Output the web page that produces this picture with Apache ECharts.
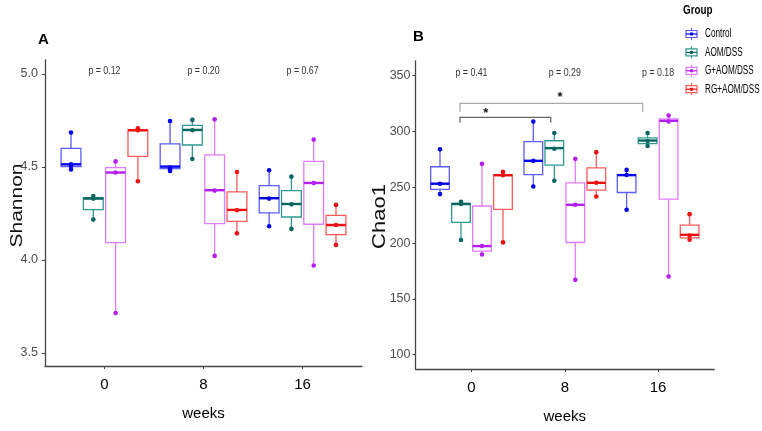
<!DOCTYPE html>
<html>
<head>
<meta charset="utf-8">
<script src="https://cdn.jsdelivr.net/npm/echarts@6/dist/echarts.min.js"></script>
<style>
  html, body { margin: 0; padding: 0; background: #fff; }
  #chart { width: 762px; height: 431px; }
</style>
</head>
<body>
<div id="chart"></div>
<script>
// groups and weeks
var groups = ['Control', 'AOM/DSS', 'G+AOM/DSS', 'RG+AOM/DSS'];
var weeks = ['0', '8', '16'];

// Shannon boxes, per week: [min, q1, median, q3, max]
var shannonCtrl = [[4.486, 4.502, 4.514, 4.600, 4.685], [4.478, 4.491, 4.502, 4.624, 4.747], [4.181, 4.253, 4.332, 4.400, 4.482]];
var shannonAom  = [[4.217, 4.271, 4.330, 4.335, 4.344], [4.543, 4.618, 4.699, 4.724, 4.753], [4.167, 4.231, 4.301, 4.373, 4.448]];
var shannonG    = [[3.715, 4.093, 4.470, 4.496, 4.530], [4.022, 4.195, 4.375, 4.565, 4.756], [3.970, 4.192, 4.414, 4.530, 4.647]];
var shannonRg   = [[4.423, 4.557, 4.697, 4.699, 4.708], [4.143, 4.208, 4.269, 4.366, 4.473], [4.081, 4.136, 4.188, 4.240, 4.296]];
// Shannon sample points
var shannonCtrlPts = [[4.685, 4.514, 4.505, 4.486], [4.747, 4.497, 4.488, 4.478], [4.482, 4.330, 4.181]];
var shannonAomPts  = [[4.344, 4.330, 4.217], [4.753, 4.697, 4.543], [4.448, 4.299, 4.167]];
var shannonGPts    = [[4.530, 4.470, 3.715], [4.756, 4.373, 4.022], [4.647, 4.414, 3.970]];
var shannonRgPts   = [[4.708, 4.697, 4.423], [4.473, 4.267, 4.143], [4.296, 4.188, 4.081]];

// Chao1 boxes, per week: [min, q1, median, q3, max]
var chaoCtrl = [[243.9, 248.1, 253.2, 268.4, 284.0], [250.7, 261.4, 273.7, 291.0, 309.0], [229.8, 245.3, 260.9, 261.4, 265.6]];
var chaoAom  = [[202.7, 218.6, 235.0, 235.6, 237.0], [255.8, 269.9, 285.1, 291.7, 298.6], [286.9, 289.2, 291.9, 294.3, 298.6]];
var chaoG    = [[189.8, 192.8, 197.3, 233.2, 271.0], [167.0, 200.5, 234.3, 254.0, 275.5], [170.0, 239.4, 309.6, 311.4, 314.3]];
var chaoRg   = [[200.6, 230.2, 260.8, 261.4, 263.8], [241.7, 247.4, 254.0, 267.4, 281.5], [202.9, 204.7, 207.4, 216.0, 225.9]];
// Chao1 sample points
var chaoCtrlPts = [[284.0, 253.2, 243.9], [309.0, 273.7, 250.7], [265.6, 261.0, 229.8]];
var chaoAomPts  = [[237.0, 235.0, 202.7], [298.6, 284.5, 255.8], [298.6, 291.5, 287.0]];
var chaoGPts    = [[271.0, 197.3, 189.8], [275.5, 234.3, 167.0], [314.3, 309.0, 170.0]];
var chaoRgPts   = [[263.8, 260.8, 200.6], [281.5, 254.0, 241.7], [225.9, 206.8, 203.0]];

// p values per week
var shannonP = ['p = 0.12', 'p = 0.20', 'p = 0.67'];
var chaoP = ['p = 0.41', 'p = 0.29', 'p = 0.18'];

// significance brackets on Chao1: [x from, x to, line value, end value]
var chaoBrackets = [[-0.123, 0.849, 312.7, 308.0], [-0.123, 1.834, 325.3, 317.7]];
var chaoStars = [[0.152, 318.6], [0.949, 333.3]];

var shannonTicks = [3.5, 4.0, 4.5, 5.0];
var chaoTicks = [100, 150, 200, 250, 300, 350];

var FONT = "'Liberation Sans', Arial, sans-serif";
var lightCol = ['#5c5cff', '#2f9a90', '#e27cff', '#ff5b5b'];
var darkCol = ['#0000ee', '#0b6660', '#b41ef0', '#ee1010'];
var offsets = [-0.3375, -0.1125, 0.1125, 0.3375];

var chartDom = document.getElementById('chart');
var myChart = echarts.init(chartDom);

function boxSeries(gi, boxes, pts, axis) {
    return {
        type: 'custom',
        name: groups[gi],
        xAxisIndex: axis,
        yAxisIndex: axis,
        data: boxes.map(function (b, i) { return [i].concat(b); }),
        encode: { x: 0, y: [1, 2, 3, 4, 5] },
        renderItem: function (params, api) {
            var x = api.value(0) + offsets[gi];
            var half = api.size([0.2, 0])[0] / 2;
            var cx = api.coord([x, api.value(3)])[0];
            var yMin = api.coord([x, api.value(1)])[1];
            var yQ1 = api.coord([x, api.value(2)])[1];
            var yMed = api.coord([x, api.value(3)])[1];
            var yQ3 = api.coord([x, api.value(4)])[1];
            var yMax = api.coord([x, api.value(5)])[1];
            var lineStyle = { stroke: lightCol[gi], lineWidth: 1.3 };
            var children = [
                { type: 'line', shape: { x1: cx, y1: yMin, x2: cx, y2: yQ1 }, style: lineStyle },
                { type: 'line', shape: { x1: cx, y1: yQ3, x2: cx, y2: yMax }, style: lineStyle },
                { type: 'rect', shape: { x: cx - half, y: yQ3, width: half * 2, height: yQ1 - yQ3 },
                  style: { stroke: lightCol[gi], lineWidth: 1.3, fill: 'rgba(255,255,255,0)' } },
                { type: 'line', shape: { x1: cx - half, y1: yMed, x2: cx + half, y2: yMed },
                  style: { stroke: darkCol[gi], lineWidth: 2.4 } }
            ];
            pts[params.dataIndex].forEach(function (v) {
                var p = api.coord([x, v]);
                children.push({ type: 'circle', shape: { cx: cx, cy: p[1], r: 2.3 }, style: { fill: darkCol[gi] } });
            });
            return { type: 'group', children: children };
        }
    };
}

function pSeries(labels, axis, maxVal, dy) {
    return {
        type: 'custom',
        xAxisIndex: axis,
        yAxisIndex: axis,
        data: labels.map(function (l, i) { return [i, maxVal]; }),
        renderItem: function (params, api) {
            var p = api.coord([api.value(0), api.value(1)]);
            return {
                type: 'text', x: p[0], y: p[1] + dy, scaleX: 0.8,
                style: { text: labels[params.dataIndex], fill: '#333',
                         font: '11px ' + FONT, align: 'center', verticalAlign: 'middle' }
            };
        }
    };
}

function valueX(gi) {
    return {
        type: 'value', gridIndex: gi, min: -0.6, max: 2.6,
        splitLine: { show: false },
        axisLine: { onZero: false, lineStyle: { color: '#444', width: 1.3 } },
        axisTick: { customValues: [0, 1, 2], length: 3, lineStyle: { color: '#444' } },
        axisLabel: { customValues: [0, 1, 2], formatter: function (v) { return weeks[Math.round(v)]; },
                     color: '#000', fontSize: 15, fontFamily: FONT, margin: 11 },
        name: 'weeks', nameLocation: 'middle', nameGap: 40,
        nameTextStyle: { color: '#000', fontSize: 15, fontFamily: FONT }
    };
}

function valueY(gi, min, max, ticks, fmt, margin) {
    return {
        type: 'value', gridIndex: gi, min: min, max: max,
        splitLine: { show: false },
        axisLine: { show: true, onZero: false, lineStyle: { color: '#444', width: 1.3 } },
        axisTick: { show: true, customValues: ticks, length: 3, lineStyle: { color: '#444' } },
        axisLabel: { customValues: ticks, formatter: fmt, color: '#4d4d4d', fontSize: 12.5, fontFamily: FONT, margin: margin }
    };
}

var series = [
    boxSeries(0, shannonCtrl, shannonCtrlPts, 0),
    boxSeries(1, shannonAom, shannonAomPts, 0),
    boxSeries(2, shannonG, shannonGPts, 0),
    boxSeries(3, shannonRg, shannonRgPts, 0),
    boxSeries(0, chaoCtrl, chaoCtrlPts, 1),
    boxSeries(1, chaoAom, chaoAomPts, 1),
    boxSeries(2, chaoG, chaoGPts, 1),
    boxSeries(3, chaoRg, chaoRgPts, 1),
    pSeries(shannonP, 0, 5.075, 11),
    pSeries(chaoP, 1, 363.2, 12),
    {
        type: 'custom', xAxisIndex: 1, yAxisIndex: 1,
        data: chaoBrackets,
        renderItem: function (params, api) {
            var a = api.coord([api.value(0), api.value(3)]);
            var b = api.coord([api.value(0), api.value(2)]);
            var c = api.coord([api.value(1), api.value(2)]);
            var d = api.coord([api.value(1), api.value(3)]);
            return { type: 'polyline', shape: { points: [a, b, c, d] },
                     style: { stroke: params.dataIndex === 0 ? '#666' : '#aaa', lineWidth: 1.3, fill: null } };
        }
    },
    {
        type: 'custom', xAxisIndex: 1, yAxisIndex: 1,
        data: chaoStars,
        renderItem: function (params, api) {
            var p = api.coord([api.value(0), api.value(1)]);
            return { type: 'text', x: p[0], y: p[1] + 3,
                     style: { text: '*', fill: '#111', font: 'bold 13px ' + FONT, align: 'center', verticalAlign: 'middle' } };
        }
    }
];

// legend drawn by hand to get the boxplot key glyph
var legendItems = [{ type: 'text', x: 683, y: 11, scaleX: 0.82,
    style: { text: 'Group', font: 'bold 12px ' + FONT, fill: '#000', verticalAlign: 'middle' } }];
groups.forEach(function (g, i) {
    var y = 34 + i * 18.4;
    legendItems.push({ type: 'line', shape: { x1: 691.5, y1: y - 6, x2: 691.5, y2: y + 6 }, style: { stroke: lightCol[i], lineWidth: 1.2 } });
    legendItems.push({ type: 'rect', shape: { x: 686, y: y - 3.5, width: 11, height: 7 }, style: { stroke: lightCol[i], fill: '#fff', lineWidth: 1.2 } });
    legendItems.push({ type: 'line', shape: { x1: 686, y1: y, x2: 697, y2: y }, style: { stroke: darkCol[i], lineWidth: 1.2 } });
    legendItems.push({ type: 'circle', shape: { cx: 691.5, cy: y, r: 1.8 }, style: { fill: darkCol[i] } });
    legendItems.push({ type: 'text', x: 705, y: y, scaleX: 0.68,
        style: { text: g, font: '12px ' + FONT, fill: '#000', verticalAlign: 'middle' } });
});

var option = {
    animation: false,
    backgroundColor: '#fff',
    grid: [
        { left: 45, top: 60, width: 317, height: 306 },
        { left: 415.5, top: 61, width: 298.6, height: 308 }
    ],
    xAxis: [valueX(0), valueX(1)],
    yAxis: [
        valueY(0, 3.43, 5.075, shannonTicks, function (v) { return v.toFixed(1); }, 7),
        valueY(1, 87.1, 363.2, chaoTicks, function (v) { return String(v); }, 5)
    ],
    graphic: [
        { type: 'text', x: 38, y: 32, style: { text: 'A', font: 'bold 15px ' + FONT, fill: '#000' } },
        { type: 'text', x: 413, y: 29, style: { text: 'B', font: 'bold 15px ' + FONT, fill: '#000' } },
        { type: 'text', x: 17, y: 205.5, rotation: Math.PI / 2, scaleY: 0.8,
          style: { text: 'Shannon', font: '21px ' + FONT, fill: '#111', align: 'center', verticalAlign: 'middle' } },
        { type: 'text', x: 380.5, y: 216.5, rotation: Math.PI / 2, scaleY: 0.8,
          style: { text: 'Chao1', font: '22px ' + FONT, fill: '#111', align: 'center', verticalAlign: 'middle' } },
        { type: 'group', children: legendItems }
    ],
    series: series
};

option && myChart.setOption(option);
</script>
</body>
</html>
